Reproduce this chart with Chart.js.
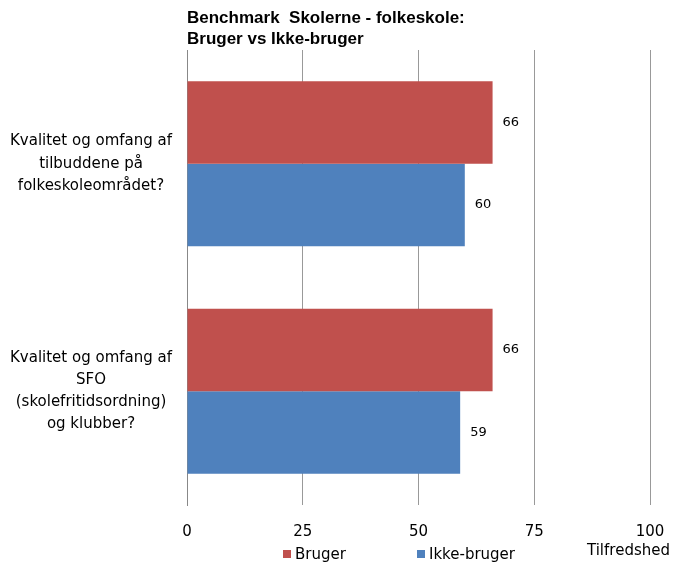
<!DOCTYPE html>
<html>
<head>
<meta charset="utf-8">
<script src="https://cdn.jsdelivr.net/npm/chart.js@4/dist/chart.umd.min.js"></script>
<style>
  html, body { margin: 0; padding: 0; background: #fff; }
  #wrap { width: 674px; height: 565px; position: relative; }
</style>
</head>
<body>
<div id="wrap"><canvas id="chart"></canvas></div>
<script>
const categories = [
    ['Kvalitet og omfang af', 'tilbuddene på', 'folkeskoleområdet?'],
    ['Kvalitet og omfang af', 'SFO', '(skolefritidsordning)', 'og klubber?']
];
const seriesNames = ['Bruger', 'Ikke-bruger'];
const brugerValues = [66, 66];
const ikkeBrugerValues = [60, 59];
const xTicks = [0, 25, 50, 75, 100];
const colors = ['#C0504D', '#4F81BD'];

const font = 'DejaVu Sans';

// title, value labels, legend and axis title are drawn by hand
const extras = {
    id: 'extras',
    afterDatasetsDraw(chart) {
        const ctx = chart.ctx;
        ctx.save();
        ctx.fillStyle = '#000';
        ctx.textBaseline = 'middle';
        ctx.font = '13px "' + font + '"';
        chart.data.datasets.forEach((ds, i) => {
            chart.getDatasetMeta(i).data.forEach((bar, j) => {
                ctx.textAlign = 'left';
                ctx.fillText(ds.data[j], bar.x + 10, bar.y);
            });
        });
        ctx.restore();
    },
    afterDraw(chart) {
        const ctx = chart.ctx;
        const left = chart.chartArea.left;
        ctx.save();
        ctx.fillStyle = '#000';
        ctx.textBaseline = 'alphabetic';
        ctx.textAlign = 'left';
        ctx.font = 'bold 17px "Liberation Sans"';
        ctx.fillText('Benchmark  Skolerne - folkeskole:', left, 23);
        ctx.fillText('Bruger vs Ikke-bruger', left, 44);

        ctx.font = '15px "' + font + '"';
        ctx.textBaseline = 'middle';
        const legendX = [283, 417];
        chart.data.datasets.forEach((ds, i) => {
            ctx.fillStyle = ds.backgroundColor;
            ctx.fillRect(legendX[i], 550, 8, 8);
            ctx.fillStyle = '#000';
            ctx.fillText(ds.label, legendX[i] + 12, 555);
        });
        ctx.fillText('Tilfredshed', 587, 551);
        ctx.restore();
    }
};

new Chart(document.getElementById('chart'), {
    type: 'bar',
    data: {
        labels: categories,
        datasets: [{
            label: seriesNames[0],
            data: brugerValues,
            backgroundColor: colors[0]
        }, {
            label: seriesNames[1],
            data: ikkeBrugerValues,
            backgroundColor: colors[1]
        }]
    },
    options: {
        indexAxis: 'y',
        responsive: true,
        maintainAspectRatio: false,
        animation: false,
        layout: {
            padding: { top: 50, right: 24, left: 0, bottom: 0 }
        },
        datasets: {
            bar: { barPercentage: 1, categoryPercentage: 0.725 }
        },
        scales: {
            x: {
                min: 0,
                max: 100,
                afterBuildTicks: scale => {
                    scale.ticks = xTicks.map(v => ({ value: v }));
                },
                afterFit: scale => {
                    scale.height = 60;
                    scale.paddingLeft = 0;
                    scale.paddingRight = 0;
                },
                grid: { color: '#999', drawTicks: false },
                border: { display: false },
                ticks: {
                    padding: 18,
                    color: '#000',
                    font: { family: font, size: 15 }
                }
            },
            y: {
                afterFit: scale => {
                    scale.width = 187;
                    scale.paddingTop = 0;
                    scale.paddingBottom = 0;
                },
                grid: { display: false },
                border: { display: true, color: '#888' },
                ticks: {
                    crossAlign: 'center',
                    padding: 7,
                    color: '#000',
                    font: { family: font, size: 15, lineHeight: 1.48 }
                }
            }
        },
        plugins: {
            legend: { display: false },
            tooltip: { enabled: false }
        }
    },
    plugins: [extras]
});
</script>
</body>
</html>
